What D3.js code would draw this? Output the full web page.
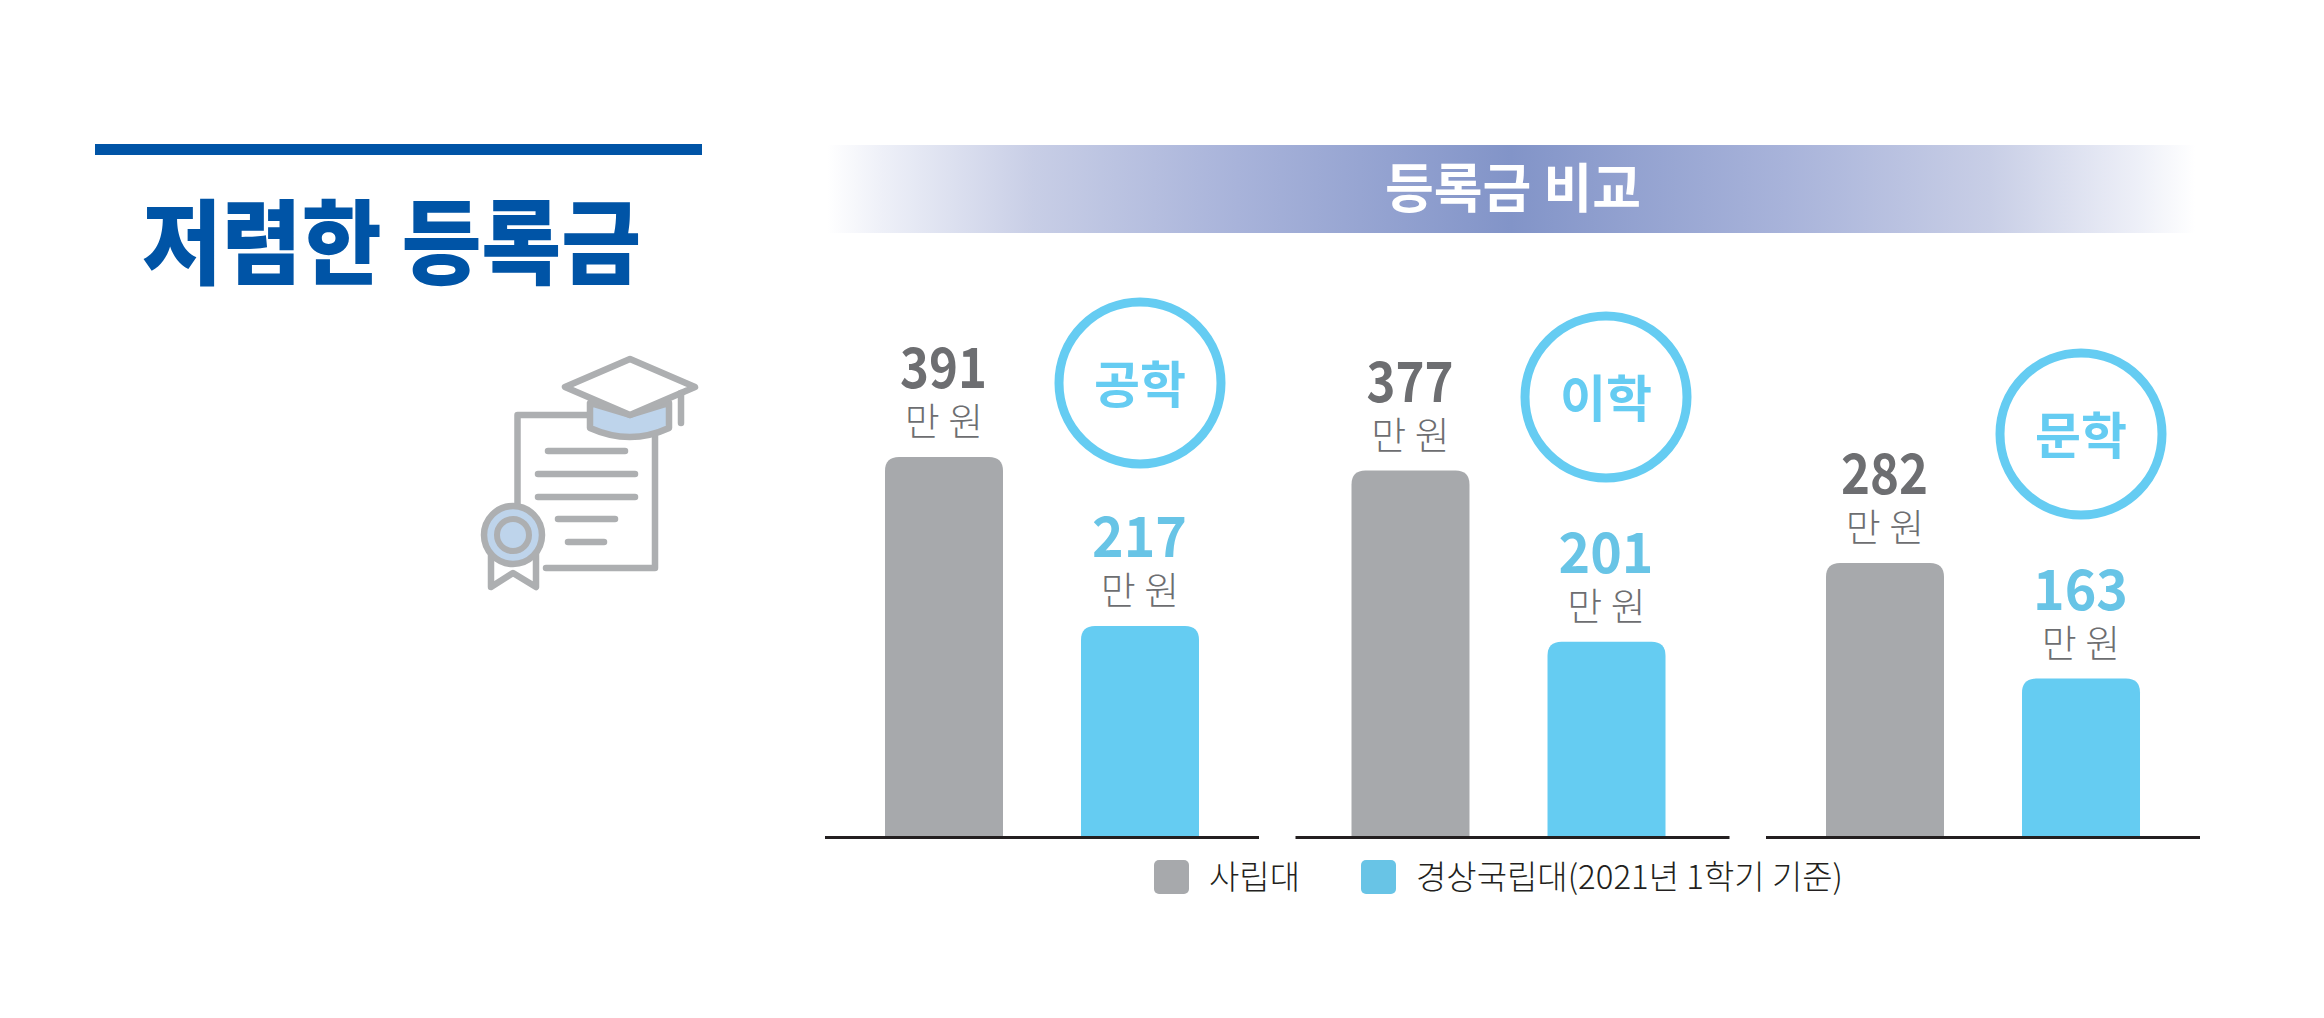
<!DOCTYPE html>
<html>
<head>
<meta charset="utf-8">
<script src="https://cdn.jsdelivr.net/npm/d3@7"></script>
<style>
  html, body { margin: 0; padding: 0; background: #fff; }
  text { font-family: "Noto Sans CJK KR", "Noto Sans", sans-serif; }
</style>
</head>
<body>
<svg id="chart" width="2324" height="1018"></svg>
<script>
var fields = ["공학", "이학", "문학"];
var schools = ["사립대", "경상국립대"];
var privateFees = [391, 377, 282];
var nationalFees = [217, 201, 163];
var unitLabel = "만 원";
var legendLabels = ["사립대", "경상국립대(2021년 1학기 기준)"];
var titleText = "저렴한 등록금";
var bannerText = "등록금 비교";

var grey = "#a7a9ac", blue = "#65ccf2", blueText = "#68c4e6", navy = "#0054a6", iconGrey = "#adafb1", iconBlue = "#bed4eb";
var svg = d3.select("#chart");

// scales
var baseY = 837;
var y = d3.scaleLinear().domain([0, 391]).range([baseY, 457]);
var groupX = d3.scaleBand().domain(fields).range([825, 2200]).paddingInner(0.0776);
var barX = d3.scaleBand().domain(schools).range([60, 374]).paddingInner(0.398);
var groupNudge = [0, -4, 0];
var badgeX = [1140, 1606, 2081], badgeY = [383, 397, 434];

// title block
svg.append("rect").attr("x", 95).attr("y", 144).attr("width", 607).attr("height", 11).attr("fill", navy);
svg.append("text").attr("x", 142).attr("y", 277)
  .attr("font-size", 92).attr("font-weight", 900).attr("fill", navy)
  .attr("textLength", 499).attr("lengthAdjust", "spacingAndGlyphs").text(titleText);

// banner
var grad = svg.append("defs").append("linearGradient").attr("id", "band");
grad.selectAll("stop").data([[0, "#ffffff"], [0.04, "#eef0f8"], [0.15, "#c8cee6"], [0.3, "#a8b3da"], [0.5, "#8294c8"], [0.7, "#a8b3da"], [0.85, "#c8cee6"], [0.96, "#eef0f8"], [1, "#ffffff"]]).enter().append("stop")
  .attr("offset", function(d) { return d[0]; }).attr("stop-color", function(d) { return d[1]; });
svg.append("rect").attr("x", 827).attr("y", 145).attr("width", 1368).attr("height", 88).attr("fill", "url(#band)");
svg.append("text").attr("x", 1513).attr("y", 208).attr("text-anchor", "middle")
  .attr("font-size", 53).attr("font-weight", 700).attr("fill", "#fff").text(bannerText);

// top-rounded bar
function barPath(x, top, w, r) {
  return "M" + x + "," + baseY + "V" + (top + r) + "Q" + x + "," + top + " " + (x + r) + "," + top +
    "H" + (x + w - r) + "Q" + (x + w) + "," + top + " " + (x + w) + "," + (top + r) + "V" + baseY + "Z";
}

fields.forEach(function(field, i) {
  var g0 = groupX(field);
  var g = svg.append("g");
  [privateFees[i], nationalFees[i]].forEach(function(v, j) {
    var x = g0 + barX(schools[j]) + groupNudge[i];
    var w = barX.bandwidth();
    g.append("path").attr("d", barPath(x, y(v), w, 14)).attr("fill", j == 0 ? grey : blue);
    g.append("text").attr("x", x + w / 2 - (j == 0 ? 44 : 48)).attr("y", y(v) - 69)
      .attr("font-size", 56).attr("font-weight", 700).attr("fill", j == 0 ? "#6d6e71" : blueText)
      .attr("textLength", j == 0 ? 87 : 95).attr("lengthAdjust", "spacingAndGlyphs").text(v);
    g.append("text").attr("x", x + w / 2).attr("y", y(v) - 22).attr("text-anchor", "middle")
      .attr("font-size", 38).attr("font-weight", 300).attr("fill", "#6d6e71").text(unitLabel);
  });
  g.append("rect").attr("x", g0).attr("y", baseY - 1).attr("width", groupX.bandwidth()).attr("height", 3).attr("fill", "#231f20");
  g.append("circle").attr("cx", badgeX[i]).attr("cy", badgeY[i]).attr("r", 81)
    .attr("fill", "#fff").attr("stroke", blue).attr("stroke-width", 9);
  g.append("text").attr("x", badgeX[i]).attr("y", badgeY[i] + 20).attr("text-anchor", "middle")
    .attr("font-size", 50).attr("font-weight", 700).attr("fill", blue).text(field);
});

// legend
var legendX = [1154, 1361], legendTextX = [1209, 1416], legendW = [91, 427], legendColor = [grey, "#68c4e6"];
legendLabels.forEach(function(t, i) {
  svg.append("rect").attr("x", legendX[i]).attr("y", 860).attr("width", 35).attr("height", 34).attr("rx", 5).attr("fill", legendColor[i]);
  svg.append("text").attr("x", legendTextX[i]).attr("y", 889).attr("font-size", 33).attr("font-weight", 300)
    .attr("fill", "#231f20").attr("textLength", legendW[i]).attr("lengthAdjust", "spacingAndGlyphs").text(t);
});

// diploma icon
var icon = svg.append("g").attr("fill", "none").attr("stroke", iconGrey).attr("stroke-width", 6.5)
  .attr("stroke-linecap", "round").attr("stroke-linejoin", "round");
icon.append("path").attr("d", "M517.5,505V415H590M655,435V568H546");
[[548, 625, 451], [538, 635, 474], [538, 635, 497], [558, 615, 519], [568, 604, 542]].forEach(function(l) {
  icon.append("line").attr("x1", l[0]).attr("x2", l[1]).attr("y1", l[2]).attr("y2", l[2]);
});
icon.append("path").attr("d", "M590,403V428Q630,446 669,428V403L630,415Z").attr("fill", iconBlue);
icon.append("path").attr("d", "M630,359L565,387L630,415L695,387Z").attr("fill", "#fff");
icon.append("path").attr("d", "M681,393V423");
icon.append("path").attr("d", "M491,553V587L513,573L536,587V553").attr("fill", "#fff");
icon.append("ellipse").attr("cx", 513).attr("cy", 535).attr("rx", 29).attr("ry", 29).attr("fill", iconBlue);
icon.append("circle").attr("cx", 513).attr("cy", 535).attr("r", 16).attr("fill", iconBlue).attr("stroke-width", 6);
</script>
</body>
</html>
